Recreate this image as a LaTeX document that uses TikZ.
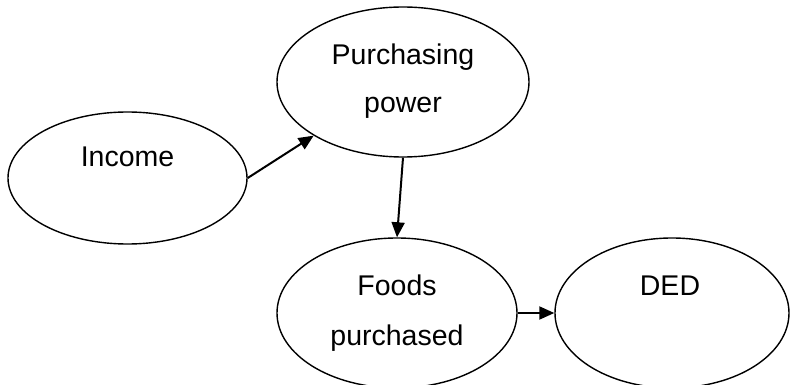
\documentclass[tikz,border=0pt]{standalone}
\usepackage{fontspec}
\setmainfont{Liberation Sans}
\usetikzlibrary{shapes.geometric,arrows.meta}
\begin{document}
\begin{tikzpicture}[x=1pt,y=-1pt,
  bubble/.style={draw,ellipse,line width=1.4pt,inner sep=0pt},
  lbl/.style={anchor=base,inner sep=0pt,font=\fontsize{28.5}{34}\selectfont},
  link/.style={line width=2pt,-{Triangle[length=15pt,width=13pt]}}]
\useasboundingbox (0,0) rectangle (790,385);
\clip (0,0) rectangle (790,385);
\node[bubble,minimum width=239pt,minimum height=132pt] (inc) at (127.5,178) {};
\node[bubble,minimum width=252pt,minimum height=150pt] (pp) at (403,82) {};
\node[bubble,minimum width=240pt,minimum height=150pt] (food) at (397,313) {};
\node[bubble,minimum width=234pt,minimum height=150pt] (ded) at (672,313) {};
\node[lbl] (tinc) at (127.5,167) {Income};
\node[lbl] (tpp1) at (403,65) {Purchasing};
\node[lbl] (tpp2) at (403,113) {power};
\node[lbl] (tf1) at (397,295) {Foods};
\node[lbl] (tf2) at (397,345) {purchased};
\node[lbl] (tded) at (670,295) {DED};
\draw[link] (inc.east) -- (pp.211);
\draw[link] (pp.south) -- (food.north);
\draw[link] (food.east) -- (ded.west);
\end{tikzpicture}
\end{document}
